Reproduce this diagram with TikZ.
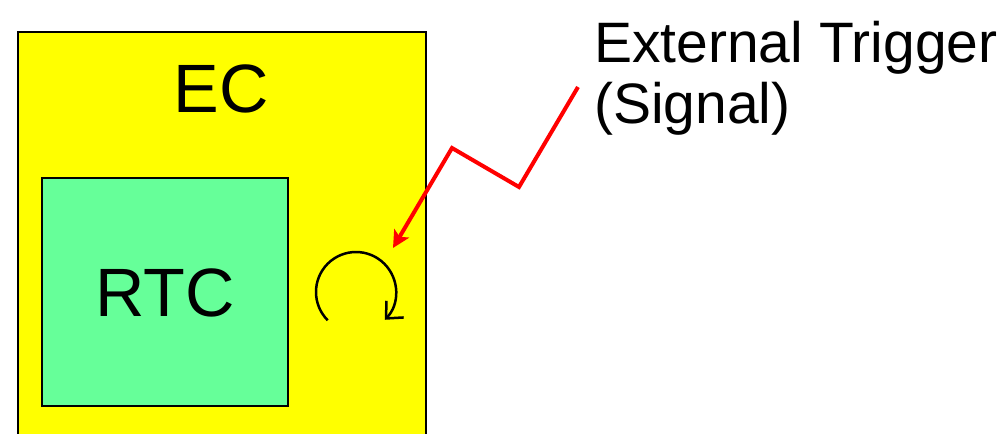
\documentclass[tikz,border=0pt]{standalone}
\usepackage{fontspec}
\setmainfont{Liberation Sans}
\usetikzlibrary{arrows.meta}
\definecolor{ecyellow}{RGB}{255,255,0}
\definecolor{rtcgreen}{RGB}{102,255,153}
\definecolor{sigred}{RGB}{255,0,0}
\tikzset{
  box/.style={draw=black,line width=2pt,inner sep=0pt,anchor=north west},
  bigtext/.style={font=\fontsize{68.4}{70}\selectfont,inner sep=0pt,anchor=base},
  labeltext/.style={font=\fontsize{57}{70}\selectfont,inner sep=0pt,anchor=base west},
  signal/.style={draw=sigred,line width=4pt,-{Stealth[length=17pt,width=17pt,inset=4pt]}},
  cycle arrow/.style={draw=black,line width=2.5pt,-{Straight Barb[length=13pt,width=24pt]}}
}
\begin{document}
\begin{tikzpicture}[x=1pt,y=-1pt]
\useasboundingbox (0,0) rectangle (1005,434);
\clip (0,0) rectangle (1005,434);
\node[box,fill=ecyellow,minimum width=408pt,minimum height=430pt] (ec) at (17,31) {};
\node[bigtext] (ectext) at (221,112) {EC};
\node[box,fill=rtcgreen,minimum width=246pt,minimum height=228pt] (rtc) at (41,177) {};
\node[bigtext] (rtctext) at (165,316) {RTC};
\coordinate (cyc) at (356,292);
\draw[cycle arrow] (cyc) ++(135:40) arc[start angle=135,end angle=404,radius=40];
\node[labeltext] (trig) at (594,62) {External Trigger};
\node[labeltext] (sig) at (594,123) {(Signal)};
\coordinate (s0) at (578,87);
\coordinate (s1) at (519,187);
\coordinate (s2) at (452,148);
\coordinate (s3) at (393,248);
\draw[signal,line join=miter] (s0) -- (s1) -- (s2) -- (s3);
\end{tikzpicture}
\end{document}
